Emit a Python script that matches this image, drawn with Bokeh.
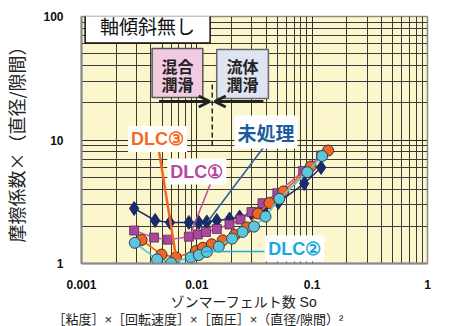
from bokeh.plotting import figure
from bokeh.models import (FixedTicker, CustomJSTickFormatter, Label, BoxAnnotation,
                          Arrow, OpenHead, Title)
from bokeh.embed import file_html
from bokeh.resources import INLINE

# ---------------- data ----------------
x_ticks = [0.001, 0.01, 0.1, 1]
y_ticks = [1, 10, 100]

so_untreated = [0.00286, 0.00435, 0.00585, 0.00853, 0.0104, 0.0122, 0.0149,
                0.0192, 0.0235, 0.0298, 0.0378, 0.0509, 0.0853, 0.1196]
mu_untreated = [2.79, 2.23, 2.15, 2.15, 2.15, 2.17, 2.23,
                2.29, 2.38, 2.54, 2.69, 3.12, 4.44, 5.99]

so_dlc1 = [0.00286, 0.00426, 0.00562, 0.00853, 0.0102, 0.0120, 0.0149,
           0.0192, 0.0239, 0.0298, 0.0371, 0.0499, 0.0836, 0.1196]
mu_dlc1 = [1.85, 1.62, 1.56, 1.65, 1.72, 1.80, 1.90,
           2.07, 2.27, 2.61, 3.08, 3.71, 5.61, 7.49]

so_dlc3 = [0.00332, 0.00494, 0.00659, 0.00980, 0.01127, 0.01346, 0.01675,
           0.0213, 0.0270, 0.0339, 0.0426, 0.0562, 0.0971, 0.1374]
mu_dlc3 = [1.55, 1.18, 1.12, 1.26, 1.34, 1.43, 1.54,
           1.70, 1.96, 2.54, 3.09, 3.83, 6.10, 8.22]

so_dlc2 = [0.00290, 0.00452, 0.00597, 0.00888, 0.0104, 0.0122, 0.01549,
           0.0202, 0.0249, 0.0313, 0.0394, 0.0519, 0.0906, 0.1219]
mu_dlc2 = [1.47, 1.08, 1.01, 1.12, 1.17, 1.24, 1.37,
           1.59, 1.80, 1.99, 2.40, 3.34, 5.49, 7.42]

x_title = "ゾンマーフェルト数  So"
x_formula = "［粘度］×［回転速度］×［面圧］×（直径/隙間）²"
y_title = "摩擦係数×（直径/隙間）"

# ---------------- figure ----------------
p = figure(width=454, height=326, x_axis_type="log", y_axis_type="log",
           x_range=(0.001, 1), y_range=(1, 100),
           output_backend="svg", toolbar_location=None,
           min_border_left=79, min_border_right=27, min_border_top=16, min_border_bottom=63)

p.background_fill_color = "#fcf6cc"
p.border_fill_color = "white"
p.outline_line_color = "#8a8a8a"
p.outline_line_width = 1.5

minor_x = [m * t for t in x_ticks[:-1] for m in range(2, 10)]
minor_y = [m * t for t in y_ticks[:-1] for m in range(2, 10)]
p.xaxis.ticker = FixedTicker(ticks=x_ticks, minor_ticks=minor_x)
p.yaxis.ticker = FixedTicker(ticks=y_ticks, minor_ticks=minor_y)
fmt = "return String(Number(tick.toPrecision(6)));"
p.xaxis.formatter = CustomJSTickFormatter(code=fmt)
p.yaxis.formatter = CustomJSTickFormatter(code=fmt)

for g in (p.xgrid, p.ygrid):
    g.grid_line_color = "#2a2a2a"
    g.grid_line_width = 1
    g.minor_grid_line_color = "#3a3a3a"
    g.minor_grid_line_width = 1

for ax in (p.xaxis, p.yaxis):
    ax.axis_line_color = "#8a8a8a"
    ax.axis_line_width = 2
    ax.major_tick_line_color = None
    ax.minor_tick_line_color = None
    ax.major_label_text_font = "Liberation Sans"
    ax.major_label_text_font_style = "bold"
    ax.major_label_text_font_size = "12px"
    ax.major_label_text_color = "#111"
p.xaxis.major_label_standoff = 10
p.yaxis.major_label_standoff = 12

p.yaxis.axis_label = y_title
p.yaxis.axis_label_text_font = "Noto Sans CJK JP"
p.yaxis.axis_label_text_font_style = "normal"
p.yaxis.axis_label_text_font_size = "18px"
p.yaxis.axis_label_text_color = "#222"
p.yaxis.axis_label_standoff = 11

# x-axis title and formula as titles below the axis
p.add_layout(Title(text=x_title, align="left", offset=89, standoff=0,
                   text_font="Liberation Sans, Noto Sans CJK JP", text_font_style="normal",
                   text_font_size="14px", text_color="#222"), "below")
p.add_layout(Title(text=x_formula, align="left", offset=-29, standoff=0,
                   text_font="Liberation Sans, Noto Sans CJK JP", text_font_style="normal",
                   text_font_size="13px", text_color="#222"), "below")

# page-pixel -> data helpers for annotation placement
def X(px):
    return 10 ** ((px - 79) / 116.0 - 3)

def Y(py):
    return 10 ** ((263 - py) / 123.5)

# ---------------- series ----------------
navy = "#1b2a6b"
purple = "#a8479c"
orange = "#f26522"
cyan = "#5cc6dc"

p.line(so_untreated, mu_untreated, line_color=navy, line_width=1.5)
p.scatter(so_untreated, mu_untreated, marker="diamond", size=14,
          fill_color=navy, line_color=navy)

p.line(so_dlc1, mu_dlc1, line_color="#bf5cb4", line_width=1.5)
p.scatter(so_dlc1, mu_dlc1, marker="square", size=9,
          fill_color=purple, line_color="#5a2a5a", line_width=0.8)

p.line(so_dlc3, mu_dlc3, line_color=orange, line_width=1.8)
p.scatter(so_dlc3, mu_dlc3, marker="circle", size=11,
          fill_color=orange, line_color="#3a3030", line_width=1)

p.line(so_dlc2, mu_dlc2, line_color=cyan, line_width=1.8)
p.scatter(so_dlc2, mu_dlc2, marker="circle", size=11,
          fill_color=cyan, line_color="#2a4450", line_width=1)

# ---------------- annotations ----------------
p.add_layout(BoxAnnotation(left=X(150), right=X(201), top=Y(48), bottom=Y(97),
                           fill_color="#f0cbe1", fill_alpha=1,
                           line_color="#555", line_alpha=1, line_width=1.5))
p.add_layout(BoxAnnotation(left=X(215), right=X(267), top=Y(49), bottom=Y(98),
                           fill_color="#dfe4f2", fill_alpha=1,
                           line_color="#666", line_alpha=1, line_width=1.5))
for cx, lines in ((175.5, ("混合", "潤滑")), (241, ("流体", "潤滑"))):
    for cy, t in zip((65, 83), lines):
        p.add_layout(Label(x=X(cx), y=Y(cy), text=t, text_align="center",
                           text_baseline="middle", text_font="Noto Sans CJK JP",
                           text_font_style="bold", text_font_size="16px",
                           text_color="#222"))

p.add_layout(Arrow(x_start=X(157), y_start=Y(101), x_end=X(208), y_end=Y(101),
                   line_color="#222", line_width=3,
                   end=OpenHead(size=11, line_color="#222", line_width=3)))
p.add_layout(Arrow(x_start=X(262), y_start=Y(101), x_end=X(213), y_end=Y(101),
                   line_color="#222", line_width=3,
                   end=OpenHead(size=11, line_color="#222", line_width=3)))
p.add_layout(Arrow(x_start=X(210.5), y_start=Y(84), x_end=X(210.5), y_end=Y(148),
                   line_color="#222", line_width=1.5, line_dash="5 3", end=None))

# leader lines
p.add_layout(Arrow(x_start=X(157), y_start=Y(151), x_end=X(174), y_end=Y(256),
                   line_color=orange, line_width=2.5, end=None))
p.add_layout(Arrow(x_start=X(210), y_start=Y(180), x_end=X(188), y_end=Y(235),
                   line_color="#b24aa6", line_width=1.5, end=None))
p.add_layout(Arrow(x_start=X(262), y_start=Y(147), x_end=X(206), y_end=Y(221),
                   line_color="#2a5f9e", line_width=1.5, end=None))
p.add_layout(Arrow(x_start=X(199), y_start=Y(251), x_end=X(263), y_end=Y(251),
                   line_color="#22a8dc", line_width=1.5, end=None))

for cx, cy, t, col, fnt, fs in (
        (155.5, 138.5, "DLC③", "#f26a21", "Liberation Sans", "18px"),
        (195, 171, "DLC①", "#b5479c", "Liberation Sans", "18px"),
        (264.5, 131.5, "未処理", "#1d5c9c", "Noto Sans CJK JP", "19px"),
        (293.5, 248, "DLC②", "#19a7dd", "Liberation Sans", "18px")):
    p.add_layout(Label(x=X(cx), y=Y(cy), text=t, text_align="center",
                       text_baseline="middle", text_font=fnt,
                       text_font_style="bold", text_font_size=fs, text_color=col,
                       background_fill_color="white", background_fill_alpha=1,
                       padding=3))

p.add_layout(Label(x=X(145.5), y=Y(25), text="軸傾斜無し", text_align="center",
                   text_baseline="middle", text_font="Noto Sans CJK JP",
                   text_font_size="19px", text_color="#111",
                   background_fill_color="white", background_fill_alpha=1,
                   border_line_color="#111", border_line_width=1.5,
                   padding=(15, 4)))

open("out.html", "w").write(file_html(p, INLINE))
